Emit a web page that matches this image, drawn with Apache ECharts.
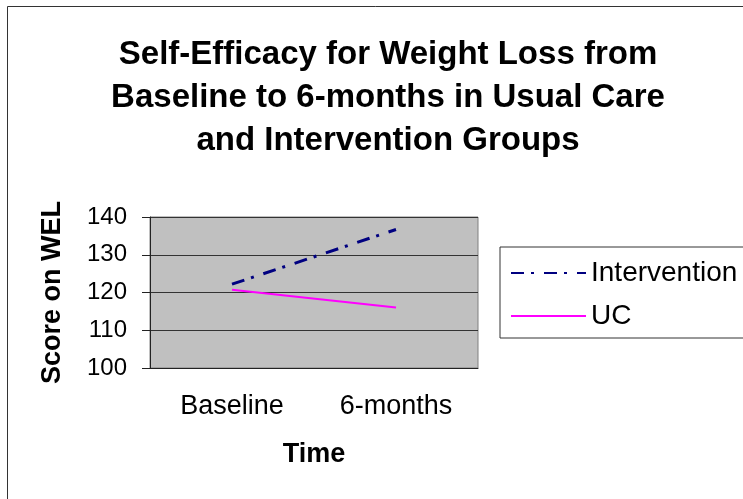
<!DOCTYPE html>
<html>
<head>
<meta charset="utf-8">
<style>
  html, body { margin: 0; padding: 0; background: #fff; }
  #chart { width: 743px; height: 499px; }
</style>
<script src="https://cdn.jsdelivr.net/npm/echarts@6/dist/echarts.min.js"></script>
</head>
<body>
<div id="chart"></div>
<script>
  // values
  const categories = ['Baseline', '6-months']
  const intervention = [122.2, 136.7]
  const usualCare = [120.7, 116.0]
  const yTicks = { min: 100, max: 140, interval: 10 }

  const font = '"Liberation Sans", Arial, sans-serif'
  const myChart = echarts.init(document.getElementById('chart'))
  myChart.setOption({
    animation: false,
    textStyle: { fontFamily: font, color: '#000' },
    title: {
      text: 'Self-Efficacy for Weight Loss from\nBaseline to 6-months in Usual Care\nand Intervention Groups',
      left: 383,
      textAlign: 'center',
      top: 28,
      textStyle: {
        fontFamily: font,
        fontSize: 33,
        fontWeight: 'bold',
        lineHeight: 43,
        color: '#000'
      }
    },
    graphic: [{
      type: 'rect',
      shape: { x: 7.5, y: 6.5, width: 800, height: 600 },
      style: { fill: 'none', stroke: '#333', lineWidth: 1 },
      silent: true
    }],
    legend: {
      left: 500,
      top: 247,
      orient: 'vertical',
      padding: [12, 30, 8, 10],
      borderColor: '#333',
      borderWidth: 1,
      itemWidth: 75,
      itemHeight: 20,
      itemGap: 15,
      itemStyle: { opacity: 0 },
      textStyle: { fontFamily: font, fontSize: 28, color: '#000' },
      data: ['Intervention', 'UC']
    },
    grid: {
      left: 150,
      top: 217,
      width: 328,
      height: 151,
      show: true,
      backgroundColor: '#c0c0c0',
      borderColor: '#808080',
      borderWidth: 1
    },
    xAxis: {
      type: 'category',
      data: categories,
      name: 'Time',
      nameLocation: 'middle',
      nameGap: 73,
      nameTextStyle: { fontFamily: font, fontSize: 27, fontWeight: 'bold', color: '#000' },
      axisLine: { lineStyle: { color: '#222', width: 1 } },
      axisTick: { length: 8, lineStyle: { color: '#222' } },
      axisLabel: { fontSize: 27, color: '#000', margin: 25, fontFamily: font },
      splitLine: { show: false }
    },
    yAxis: {
      type: 'value',
      min: yTicks.min,
      max: yTicks.max,
      interval: yTicks.interval,
      name: 'Score on WEL',
      nameLocation: 'middle',
      nameGap: 84,
      nameTextStyle: { fontFamily: font, fontSize: 27, fontWeight: 'bold', color: '#000' },
      axisLine: { show: true, lineStyle: { color: '#222', width: 1 } },
      axisTick: { show: true, length: 8, lineStyle: { color: '#222' } },
      axisLabel: { fontSize: 24, color: '#000', margin: 23, fontFamily: font },
      splitLine: { show: true, lineStyle: { color: '#333', width: 1 } }
    },
    series: [
      {
        name: 'Intervention',
        type: 'line',
        symbol: 'none',
        data: intervention,
        lineStyle: { color: '#000080', width: 3, type: [13, 7, 3, 10] },
        itemStyle: { color: '#000080' }
      },
      {
        name: 'UC',
        type: 'line',
        symbol: 'none',
        data: usualCare,
        lineStyle: { color: '#ff00ff', width: 2 },
        itemStyle: { color: '#ff00ff' }
      }
    ]
  })
</script>
</body>
</html>
